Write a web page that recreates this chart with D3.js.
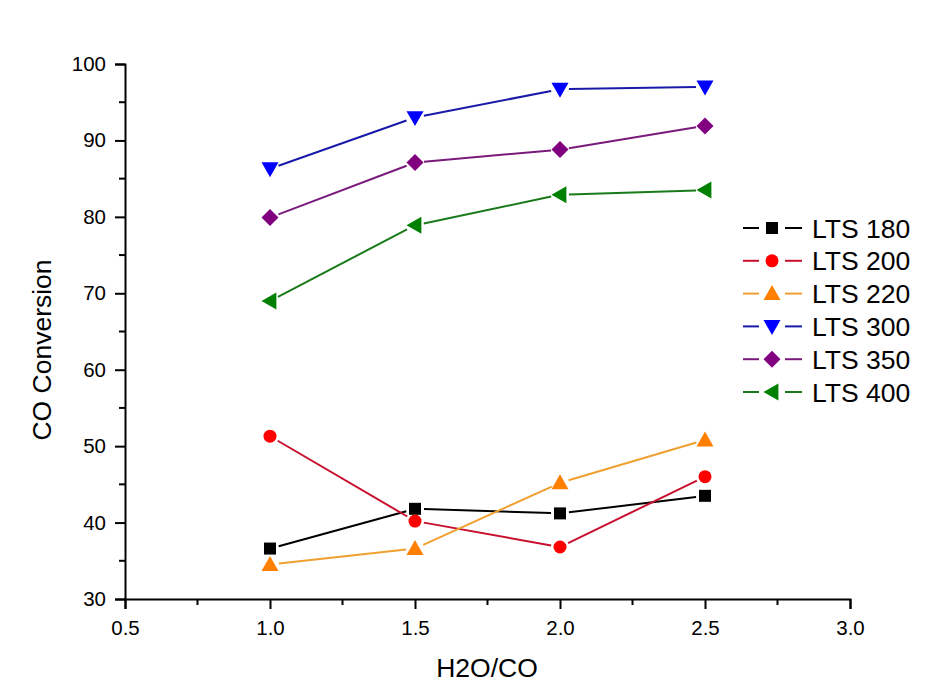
<!DOCTYPE html>
<html><head><meta charset="utf-8">
<script src="https://cdn.jsdelivr.net/npm/d3@7"></script>
<style>body{margin:0;background:#fff}svg{display:block}text{font-family:"Liberation Sans",Arial,sans-serif}</style>
</head><body>
<svg id="c" width="936" height="700"></svg>
<script>
const xValues = [1.0, 1.5, 2.0, 2.5];
const seriesNames = ["LTS 180", "LTS 200", "LTS 220", "LTS 300", "LTS 350", "LTS 400"];
const lts180 = [36.6, 41.8, 41.2, 43.5];
const lts200 = [51.3, 40.2, 36.8, 46.0];
const lts220 = [34.5, 36.6, 45.2, 50.8];
const lts300 = [86.3, 93.0, 96.7, 97.0];
const lts350 = [79.9, 87.1, 88.8, 91.9];
const lts400 = [69.0, 78.9, 82.9, 83.5];
const xTicks = [0.5, 1.0, 1.5, 2.0, 2.5, 3.0];
const yTicks = [30, 40, 50, 60, 70, 80, 90, 100];

const seriesData = [lts180, lts200, lts220, lts300, lts350, lts400];
const lineColors = ["#000000", "#c8102e", "#f0a030", "#1a1aaa", "#7a1a7a", "#1a7a1a"];
const markColors = ["#000000", "#ff0000", "#ff8000", "#0000ff", "#800080", "#008000"];
const shapes = ["square", "circle", "up", "down", "diamond", "left"];

const svg = d3.select("#c");
const x = d3.scaleLinear().domain([0.5, 3.0]).range([125, 850]);
const y = d3.scaleLinear().domain([30, 100]).range([599, 64]);

function marker(g, shape, cx, cy, color) {
  let p;
  if (shape === "square") p = g.append("rect").attr("x", cx-6).attr("y", cy-6).attr("width", 12).attr("height", 12);
  else if (shape === "circle") p = g.append("circle").attr("cx", cx).attr("cy", cy).attr("r", 6.5);
  else {
    let pts;
    const s = 8.5;
    if (shape === "up") pts = [[cx, cy-s], [cx+s, cy+s*0.75], [cx-s, cy+s*0.75]];
    if (shape === "down") pts = [[cx, cy+s], [cx+s, cy-s*0.75], [cx-s, cy-s*0.75]];
    if (shape === "left") pts = [[cx-s, cy], [cx+s*0.75, cy-s], [cx+s*0.75, cy+s]];
    if (shape === "diamond") pts = [[cx, cy-8.5], [cx+8.5, cy], [cx, cy+8.5], [cx-8.5, cy]];
    p = g.append("polygon").attr("points", pts.map(d => d.join(",")).join(" "));
  }
  p.attr("fill", color);
}

// axes
const yAxis = d3.axisLeft(y).tickValues(yTicks).tickFormat(d3.format("d")).tickSize(10).tickPadding(9);
const xAxis = d3.axisBottom(x).tickValues(xTicks).tickFormat(d3.format(".1f")).tickSize(10).tickPadding(11);
const gy = svg.append("g").attr("transform", "translate(125,0)").call(yAxis);
const gx = svg.append("g").attr("transform", "translate(0,599)").call(xAxis);
[gx, gy].forEach(g => {
  g.select(".domain").attr("stroke", "#000").attr("stroke-width", 2);
  g.selectAll(".tick line").attr("stroke", "#000").attr("stroke-width", 2);
  g.selectAll(".tick text").attr("font-size", 20.5).attr("fill", "#000").attr("font-family", '"Liberation Sans",Arial,sans-serif');
});
// minor ticks
const yMinor = d3.range(35, 100, 10);
svg.append("g").selectAll("line").data(yMinor).join("line")
  .attr("x1", 119).attr("x2", 125).attr("y1", d => y(d)).attr("y2", d => y(d))
  .attr("stroke", "#000").attr("stroke-width", 2);
const xMinor = [0.75, 1.25, 1.75, 2.25, 2.75];
svg.append("g").selectAll("line").data(xMinor).join("line")
  .attr("y1", 599).attr("y2", 605).attr("x1", d => x(d)).attr("x2", d => x(d))
  .attr("stroke", "#000").attr("stroke-width", 2);

// titles
svg.append("text").attr("transform", "translate(51,350) rotate(-90)").attr("text-anchor", "middle")
  .attr("font-size", 26.5).text("CO Conversion");
svg.append("text").attr("x", 487).attr("y", 677).attr("text-anchor", "middle")
  .attr("font-size", 26.5).text("H2O/CO");

// series
const gap = 9;
seriesData.forEach((vals, i) => {
  const g = svg.append("g");
  const pts = vals.map((v, j) => [x(xValues[j]), y(v)]);
  for (let j = 0; j < pts.length - 1; j++) {
    const [x1, y1] = pts[j], [x2, y2] = pts[j+1];
    const dx = x2 - x1, dy = y2 - y1, L = Math.hypot(dx, dy);
    if (L <= 2*gap) continue;
    const ux = dx / L, uy = dy / L;
    g.append("line").attr("x1", x1 + ux*gap).attr("y1", y1 + uy*gap)
      .attr("x2", x2 - ux*gap).attr("y2", y2 - uy*gap)
      .attr("stroke", lineColors[i]).attr("stroke-width", 2);
  }
  pts.forEach(p => marker(g, shapes[i], p[0], p[1], markColors[i]));
});

// legend
const leg = svg.append("g");
seriesNames.forEach((name, i) => {
  const cy = 228 + i * 32.8;
  leg.append("line").attr("x1", 743).attr("x2", 759).attr("y1", cy).attr("y2", cy).attr("stroke", lineColors[i]).attr("stroke-width", 2);
  leg.append("line").attr("x1", 785).attr("x2", 802).attr("y1", cy).attr("y2", cy).attr("stroke", lineColors[i]).attr("stroke-width", 2);
  marker(leg, shapes[i], 772, cy, markColors[i]);
  leg.append("text").attr("x", 812).attr("y", cy + 9.5).attr("font-size", 26.5).text(name);
});
</script>
</body></html>
